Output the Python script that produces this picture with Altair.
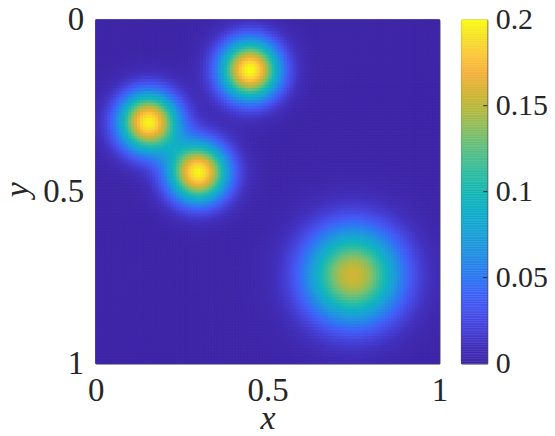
import numpy as np
import pandas as pd
import altair as alt

# ---- data: four Gaussian blobs ----
blob_x = [0.45, 0.155, 0.30, 0.75]
blob_y = [0.148, 0.300, 0.446, 0.745]
blob_peak = [0.200, 0.197, 0.197, 0.157]
blob_width = [0.060, 0.060, 0.060, 0.097]

# grid resolution of the image
N = 115

# colorbar
cbar_ticks = [0, 0.05, 0.1, 0.15, 0.2]
cbar_inner_ticks = [0.05, 0.1, 0.15]
axis_ticks = [0, 0.5, 1]

# parula-like colormap (fraction -> colour)
cmap_pos = [0.00, 0.05, 0.10, 0.15, 0.20, 0.25, 0.30, 0.35, 0.40, 0.45, 0.50,
            0.55, 0.60, 0.65, 0.70, 0.75, 0.80, 0.85, 0.90, 0.95, 1.00]
cmap_col = ["#3e26a8", "#4230bc", "#4540d6", "#4651ec", "#3f63f7", "#2e77f2",
            "#2689e6", "#1f99dc", "#18a6d3", "#10b0c6", "#18b8b5", "#2dbda2",
            "#4cbf8e", "#70c076", "#98bd57", "#bcb93c", "#dab435", "#f6b33e",
            "#fcc93a", "#f5e128", "#f9fb15"]
vmax = 0.2

# ---- build table ----
c = (np.arange(N) + 0.5) / N
X, Y = np.meshgrid(c, c)
V = np.zeros_like(X)
for bx, by, a, s in zip(blob_x, blob_y, blob_peak, blob_width):
    V += a * np.exp(-((X - bx) ** 2 + (Y - by) ** 2) / (2 * s * s))
I, J = np.meshgrid(np.arange(N), np.arange(N))
df = pd.DataFrame({"i": I.ravel(), "j": J.ravel(), "v": np.round(V.ravel(), 5)})

step = 0.001
lo = np.round(np.arange(0, vmax, step), 4)
bands = pd.DataFrame({"lo": lo, "hi": np.round(lo + step, 4), "mid": np.round(lo + step / 2, 5)})
ticks_df = pd.DataFrame({"t": cbar_inner_ticks})

FONT = "Liberation Serif"
TXT = "#262626"

cscale = alt.Scale(domain=[p * vmax for p in cmap_pos], range=cmap_col,
                   interpolate="rgb", clamp=True)

heat = alt.Chart(df).transform_calculate(
    x0=f"datum.i/{N}", x1=f"(datum.i+1)/{N}",
    y0=f"datum.j/{N}", y1=f"(datum.j+1)/{N}",
).mark_rect(strokeWidth=1).encode(
    x=alt.X("x0:Q", scale=alt.Scale(domain=[0, 1], nice=False, zero=False),
            axis=alt.Axis(values=axis_ticks, format="~g", title="x", ticks=False,
                          domain=False, grid=False, labelPadding=11,
                          labelFlush=False, labelOverlap=False,
                          titleBaseline="alphabetic", titleY=65)),
    x2="x1:Q",
    y=alt.Y("y0:Q", scale=alt.Scale(domain=[0, 1], nice=False, zero=False, reverse=True),
            axis=alt.Axis(values=axis_ticks, format="~g", title="y", ticks=False,
                          domain=False, grid=False, labelPadding=12,
                          labelFlush=False, labelOverlap=False,
                          titleX=-78, titleY=170, titleBaseline="middle")),
    y2="y1:Q",
    color=alt.Color("v:Q", scale=cscale, legend=None),
    stroke=alt.Stroke("v:Q", scale=cscale, legend=None),
).properties(width=345, height=345)

cbar_rect = alt.Chart(bands).mark_rect(strokeWidth=0.5).encode(
    y=alt.Y("lo:Q", scale=alt.Scale(domain=[0, vmax], nice=False, zero=False),
            axis=alt.Axis(orient="right", values=cbar_ticks, format="~g", title=None,
                          ticks=False, domain=False, grid=False, labelPadding=8,
                          labelFontSize=30, labelFlush=False, labelOverlap=False)),
    y2="hi:Q",
    color=alt.Color("mid:Q", scale=cscale, legend=None),
    stroke=alt.Stroke("mid:Q", scale=cscale, legend=None),
)
cbar_tick = alt.Chart(ticks_df).mark_rule(color=TXT, strokeWidth=1).encode(
    y="t:Q", x=alt.value(22), x2=alt.value(26)
)
cbar = alt.layer(cbar_rect, cbar_tick).properties(width=26, height=345)

chart = alt.hconcat(heat, cbar, spacing=12).properties(
    padding={"left": -8, "top": -6, "right": -1, "bottom": -6},
).configure_view(
    stroke=TXT, strokeWidth=1
).configure_axis(
    labelFont=FONT, titleFont=FONT, labelColor=TXT, titleColor=TXT,
    labelFontSize=33, titleFontSize=34, titleFontStyle="italic",
    titleFontWeight="normal",
).configure_concat(spacing=12)

chart.save("out.html", embed_options={"renderer": "svg", "actions": False})
